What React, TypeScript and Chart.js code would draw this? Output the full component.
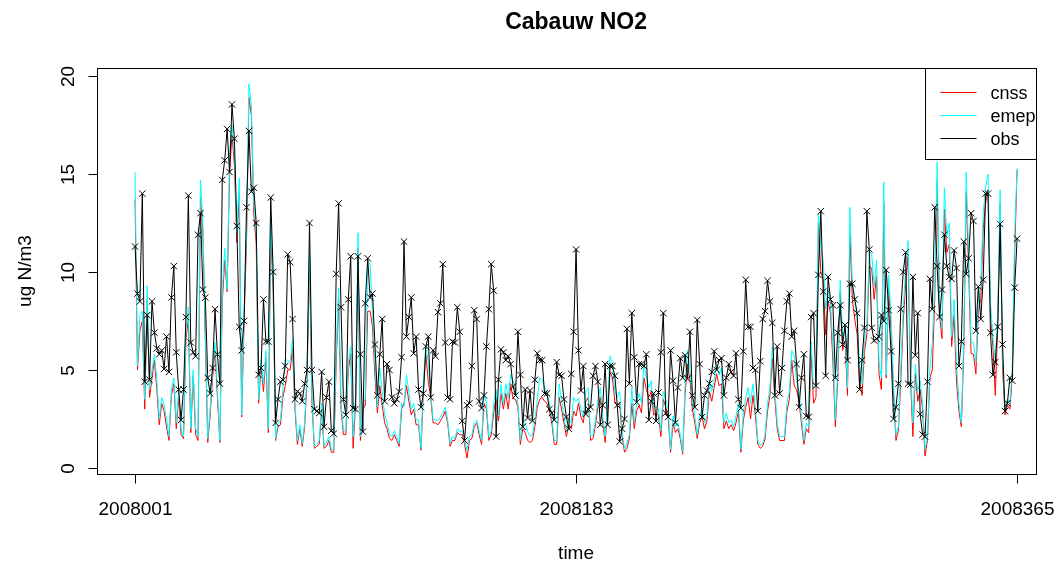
import React, { useEffect, useRef } from "react";
import { Chart, registerables } from "chart.js";

Chart.register(...registerables);

// Observations (day 1 .. 365)
const obs: number[] = [
  11.3, 8.9, 8.5, 14.0, 4.4, 7.8, 4.5, 8.5, 6.9, 6.1, 5.8, 6.0, 5.05, 6.7, 4.9, 8.7, 10.3, 5.9, 4.0, 2.45, 4.0, 7.7, 13.9, 6.4, 5.9, 5.7, 11.9, 13.0, 9.1,
  8.7, 4.6, 3.8, 5.1, 8.1, 5.8, 4.3, 14.7, 15.7, 17.3, 15.1, 18.55, 16.8, 12.35, 7.2, 6.0, 7.5, 13.3, 17.2, 14.1, 14.3, 12.5, 4.75, 5.1, 8.6, 6.45, 6.45, 13.8, 10.0, 2.3,
  3.5,
  4.4, 4.5, 5.2, 10.9, 10.5, 7.6, 3.5, 3.9, 3.8, 3.4, 4.3, 5.0, 12.5, 5.0, 3.0, 2.9, 2.8, 4.9, 2.1, 3.6, 4.4, 1.9, 1.75, 9.9, 13.5, 8.2, 3.5, 2.7, 8.6, 10.8,
  3.05, 3.0, 10.8, 5.8, 1.85, 8.4, 10.7, 8.7, 8.9, 6.3, 3.7, 5.8, 7.6, 3.4, 5.3, 5.0, 3.6, 3.3, 3.5, 3.9, 5.65, 11.55, 6.7, 7.7, 8.7, 5.85, 6.7, 4.0, 3.1, 3.8, 6.2,
  6.7, 3.6, 6.0, 5.7, 7.95, 8.4, 10.4, 6.4, 3.6, 3.5, 6.45, 6.4, 8.2, 6.95, 2.4, 1.4, 3.2, 3.3, 5.2, 8.05, 7.6, 3.4, 3.05, 3.7, 6.2, 8.1, 10.4, 9.05, 1.6, 4.5, 6.05,
  5.9, 5.5, 5.7, 5.3, 4.15, 3.7, 6.95, 4.75, 2.1, 4.0, 2.55, 3.95, 2.4, 4.5, 5.85, 5.5, 5.5, 3.8, 3.8, 3.0, 2.8, 2.45, 5.4, 4.75, 4.7, 3.5, 2.6, 2.0, 4.8, 6.95, 11.15,
  6.0, 3.95, 5.2, 2.75, 3.0, 3.1, 4.7, 5.2, 4.4, 2.2, 3.2, 5.3, 2.2, 5.2, 5.2, 4.7, 3.2, 1.35, 2.0, 2.5, 7.1, 4.3, 7.9, 5.65, 3.35, 5.3, 5.3, 5.2, 5.8, 2.45,
  3.4, 3.8, 2.4, 3.85, 5.9, 7.9, 2.8, 2.6, 6.0, 4.45, 2.3, 4.1, 5.6, 4.6, 5.75, 4.55, 6.95, 3.7, 3.1, 7.55, 5.3, 2.6, 3.7, 3.95, 4.3, 4.9, 5.95, 5.0, 5.5, 5.6, 3.7,
  4.6, 5.3, 4.9, 4.7, 5.85, 3.5, 3.05, 5.95, 9.6, 7.2, 7.2, 5.1, 5.0, 2.9, 5.45, 7.6, 8.0, 9.55, 8.5, 7.4, 3.7, 6.2, 3.8, 5.1, 7.0, 8.5, 8.9, 6.7, 7.0, 5.3, 3.1,
  4.6, 5.8, 2.65, 2.6, 7.7, 7.9, 4.2, 9.85, 13.1, 9.0, 4.7, 9.75, 8.6, 8.3, 4.6, 6.9, 8.3, 6.3, 7.3, 5.5, 9.4, 9.4, 8.6, 7.9, 4.0, 5.5, 7.15, 13.1, 11.15, 7.15, 6.5,
  6.6, 6.7, 7.8, 7.5, 10.1, 8.05, 5.95, 2.5, 3.1, 4.3, 8.1, 10.0, 11.0, 4.3, 4.25, 9.75, 5.75, 7.9, 2.75, 1.7, 1.6, 4.4, 9.65, 8.1, 13.3, 10.3, 7.7, 9.1, 11.9, 10.3,
  9.75, 9.65, 11.1, 10.2, 5.2, 6.45, 11.55, 9.9, 10.7, 13.0, 12.6, 7.0, 9.25, 7.6, 9.6, 14.0, 14.0, 6.9, 4.75, 5.4, 7.2, 12.45, 6.3, 2.9, 3.3, 4.6, 4.45, 9.2, 11.7,
];

// EMEP model
const emep: number[] = [
  15.1, 5.2, 7.8, 8.0, 3.5, 9.3, 4.0, 5.0, 5.8, 4.5, 2.5, 3.6, 3.2, 2.5, 1.6, 4.0, 4.6, 2.3, 4.0, 2.0, 1.6, 7.0, 8.2, 2.0, 5.0, 2.0, 1.6, 14.7, 12.5,
  7.0, 1.5, 3.0, 5.0, 6.4, 4.0, 1.4, 9.0, 11.2, 9.1, 16.0, 17.5, 16.0, 12.0, 14.8, 2.7, 8.0, 12.0, 19.6, 18.5, 13.5, 12.0, 3.5, 5.5, 4.3, 6.0, 2.0, 12.8, 9.5, 1.5,
  2.3,
  2.4, 4.0, 5.5, 5.5, 5.4, 6.6, 3.3, 1.4, 2.2, 1.25, 2.3, 5.0, 11.1, 3.6, 1.1, 1.2, 1.4, 3.3, 1.1, 1.3, 1.6, 0.95, 0.95, 5.8, 9.2, 3.3, 1.9, 1.9, 5.4, 6.2,
  1.6, 3.6, 12.0, 1.6, 3.3, 3.5, 10.6, 10.4, 7.9, 5.3, 3.1, 5.1, 3.9, 2.75, 2.3, 1.7, 1.6, 1.9, 1.6, 1.25, 3.3, 3.1, 4.75, 3.9, 3.0, 3.3, 2.45, 2.45, 1.0, 4.5, 6.2,
  5.4, 3.9, 2.45, 2.45, 2.4, 2.6, 2.8, 3.1, 2.45, 1.25, 1.6, 1.5, 2.0, 1.85, 1.9, 1.4, 0.9, 1.6, 1.7, 2.3, 2.45, 1.9, 1.4, 3.8, 3.3, 1.6, 1.9, 3.3, 4.0, 2.65, 4.25,
  3.3, 4.3, 3.55, 4.75, 4.45, 4.1, 3.3, 1.4, 2.45, 2.3, 1.85, 1.6, 1.7, 2.4, 3.5, 4.6, 4.5, 4.1, 3.9, 3.3, 2.6, 1.4, 1.4, 4.3, 3.5, 2.6, 1.9, 2.45, 2.3, 3.6, 3.4,
  3.55, 3.0, 2.6, 3.9, 4.1, 1.6, 1.7, 2.45, 3.5, 4.1, 2.65, 1.6, 3.3, 5.7, 5.3, 3.9, 3.6, 3.9, 1.9, 0.95, 1.25, 1.7, 4.1, 2.3, 3.3, 3.8, 3.3, 5.3, 4.6, 4.1,
  4.45, 3.1, 3.1, 3.0, 1.9, 3.9, 3.5, 3.0, 0.95, 2.65, 2.1, 2.3, 1.7, 0.8, 4.3, 6.0, 5.0, 3.5, 2.65, 1.7, 2.65, 3.0, 2.3, 2.65, 4.5, 3.9, 4.5, 5.3, 4.75, 5.1, 2.3,
  2.8, 2.3, 2.45, 2.1, 2.65, 3.3, 0.95, 2.8, 3.6, 4.1, 3.3, 4.3, 3.1, 1.4, 1.15, 1.25, 1.7, 3.3, 4.1, 6.2, 4.1, 2.3, 1.6, 1.6, 1.6, 3.3, 3.9, 6.0, 5.7, 4.45, 3.9,
  2.65, 1.4, 2.3, 2.1, 6.45, 4.1, 4.1, 13.0, 11.2, 10.6, 8.1, 9.1, 8.4, 6.2, 2.45, 5.0, 9.6, 6.7, 7.1, 4.1, 13.3, 9.4, 8.55, 7.7, 5.3, 4.3, 6.5, 7.2, 11.05, 10.9, 9.25,
  10.6, 5.4, 4.6, 14.6, 4.75, 9.85, 7.7, 4.3, 1.7, 2.1, 5.0, 8.1, 10.15, 11.6, 5.0, 2.3, 5.3, 3.9, 4.45, 3.3, 0.95, 1.6, 5.0, 6.4, 9.25, 15.6, 8.4, 7.1, 14.3, 11.85,
  12.5, 6.7, 8.6, 5.3, 3.3, 2.3, 6.7, 15.1, 10.9, 6.4, 6.4, 5.4, 8.6, 9.25, 13.0, 14.3, 15.0, 8.5, 6.7, 5.4, 7.9, 14.2, 5.6, 3.0, 3.5, 3.3, 5.0, 11.9, 15.3,
];

// CNSS model
const cnss: number[] = [
  13.7, 5.0, 7.0, 7.5, 3.0, 8.6, 3.6, 4.6, 5.5, 4.0, 2.2, 3.3, 2.9, 2.1, 1.4, 3.7, 4.3, 2.0, 3.6, 1.7, 1.5, 6.5, 7.6, 1.8, 4.7, 1.7, 1.4, 13.8, 12.0,
  6.5, 1.3, 2.7, 4.6, 6.0, 3.6, 1.3, 8.5, 10.6, 9.0, 15.0, 17.0, 15.5, 11.5, 14.0, 2.6, 7.5, 11.5, 18.9, 18.0, 13.0, 11.4, 3.3, 5.2, 3.9, 5.6, 1.8, 12.0, 9.0, 1.4,
  2.1,
  2.2, 3.6, 4.2, 5.0, 5.0, 6.1, 3.0, 1.2, 2.0, 1.1, 2.1, 4.6, 10.6, 3.3, 1.0, 1.1, 1.2, 3.0, 1.0, 1.1, 1.4, 0.8, 0.8, 5.3, 8.7, 3.0, 1.7, 1.7, 5.0, 5.8,
  1.0, 3.3, 11.2, 1.4, 3.0, 3.2, 8.0, 8.0, 7.2, 4.7, 2.8, 4.2, 3.2, 2.3, 2.0, 1.5, 1.4, 1.7, 1.4, 1.1, 3.0, 3.3, 4.2, 3.4, 2.7, 3.0, 2.2, 2.2, 0.9, 4.0, 5.8,
  4.4, 3.6, 2.3, 2.3, 2.2, 2.4, 2.6, 2.9, 2.3, 1.1, 1.4, 1.4, 1.8, 1.7, 1.7, 1.2, 0.5, 1.4, 1.5, 2.1, 2.3, 1.7, 1.2, 3.3, 3.0, 1.4, 1.7, 2.8, 3.6, 2.4, 3.8,
  3.0, 3.8, 3.0, 4.2, 3.55, 3.5, 3.1, 1.2, 2.0, 1.8, 1.4, 1.3, 1.4, 2.1, 3.1, 3.5, 3.6, 3.4, 3.3, 2.9, 2.3, 1.2, 1.2, 3.6, 3.0, 2.3, 1.6, 2.2, 2.0, 2.9, 2.65,
  3.3, 2.6, 2.3, 3.4, 3.6, 1.4, 1.5, 2.2, 3.1, 3.6, 2.3, 1.3, 2.9, 4.9, 4.6, 3.4, 3.2, 3.3, 1.6, 0.8, 1.0, 1.5, 3.3, 2.0, 2.9, 3.2, 2.8, 4.6, 4.0, 3.6,
  3.9, 2.7, 2.8, 2.7, 1.6, 3.5, 3.1, 2.6, 0.8, 2.3, 1.8, 2.0, 1.5, 0.7, 3.8, 5.3, 4.5, 3.0, 2.3, 1.5, 2.3, 2.6, 2.0, 2.4, 3.9, 3.4, 4.1, 4.8, 4.2, 4.3, 2.0,
  2.4, 2.0, 2.2, 1.9, 2.3, 2.9, 0.8, 2.4, 3.1, 3.6, 2.5, 3.7, 2.7, 1.2, 1.0, 1.1, 1.5, 2.9, 3.7, 5.6, 3.6, 2.0, 1.4, 1.4, 1.4, 2.9, 3.5, 5.5, 4.2, 4.0, 3.4,
  2.3, 1.2, 2.0, 1.8, 5.8, 3.3, 3.6, 12.5, 10.0, 9.6, 6.8, 8.5, 7.9, 5.4, 2.1, 4.5, 9.0, 6.0, 6.5, 3.7, 12.0, 8.6, 7.6, 6.8, 4.4, 3.7, 5.9, 6.8, 10.3, 10.2, 8.6,
  9.8, 4.8, 4.0, 13.5, 4.6, 9.2, 7.0, 3.8, 1.4, 1.9, 4.5, 7.5, 9.4, 10.8, 4.6, 1.6, 4.8, 3.4, 4.0, 3.0, 0.6, 1.4, 4.6, 5.0, 8.6, 14.6, 7.8, 6.6, 13.2, 11.0,
  11.4, 6.2, 7.8, 4.4, 2.9, 2.1, 6.0, 14.1, 10.1, 5.85, 5.8, 4.8, 8.0, 8.6, 12.2, 13.5, 14.2, 7.9, 6.2, 3.7, 7.2, 13.5, 5.1, 2.7, 3.2, 3.0, 4.6, 11.0, 15.2,
];

const xTickValues = [1, 183, 365];
const xTickLabels = ["2008001", "2008183", "2008365"];
const yTickValues = [0, 5, 10, 15, 20];
const seriesNames = ["cnss", "emep", "obs"];
const seriesColors = ["#FF0000", "#00FFFF", "#000000"];
const chartTitle = "Cabauw NO2";
const xTitle = "time";
const yTitle = "ug N/m3";

const FONT = '"Liberation Sans", Arial, Helvetica, sans-serif';

const toPoints = (vals: number[]) => vals.map((v, i) => ({ x: i + 1, y: v }));

const rStylePlugin = {
  id: "rStyle",
  afterDraw(chart: any) {
    const { ctx, chartArea: a, scales } = chart;
    const xs = scales.x;
    const ys = scales.y;
    ctx.save();
    ctx.strokeStyle = "#000";
    ctx.fillStyle = "#000";
    ctx.lineWidth = 1;
    const seg = (x1: number, y1: number, x2: number, y2: number) => {
      ctx.beginPath();
      ctx.moveTo(x1, y1);
      ctx.lineTo(x2, y2);
      ctx.stroke();
    };
    const L = Math.round(a.left) + 0.5;
    const R = Math.round(a.right) + 0.5;
    const T = Math.round(a.top) + 0.5;
    const B = Math.round(a.bottom) + 0.5;
    // legend (top right)
    const lgW = 111, lgH = 91;
    ctx.fillStyle = "#fff";
    ctx.fillRect(R - lgW, T, lgW, lgH);
    ctx.strokeRect(R - lgW, T, lgW, lgH);
    ctx.font = `18px ${FONT}`;
    ctx.textAlign = "left";
    ctx.textBaseline = "alphabetic";
    seriesNames.forEach((name, i) => {
      const ly = Math.round(T + 23 + i * 23) + 0.5;
      ctx.strokeStyle = seriesColors[i];
      seg(R - 96, ly, R - 60, ly);
      ctx.fillStyle = "#000";
      ctx.fillText(name, R - 46, ly + 6);
    });
    ctx.strokeStyle = "#000";
    ctx.fillStyle = "#000";
    // box
    ctx.strokeRect(L, T, R - L, B - T);
    // x axis
    ctx.font = `19px ${FONT}`;
    ctx.textAlign = "center";
    xTickValues.forEach((v, i) => {
      const px = Math.round(xs.getPixelForValue(v)) + 0.5;
      seg(px, B, px, B + 9);
      ctx.fillText(xTickLabels[i], px, B + 40);
    });
    // y axis
    yTickValues.forEach((v) => {
      const py = Math.round(ys.getPixelForValue(v)) + 0.5;
      seg(L - 9, py, L, py);
      ctx.save();
      ctx.translate(L - 24, py);
      ctx.rotate(-Math.PI / 2);
      ctx.fillText(String(v), 0, 0);
      ctx.restore();
    });
    const cx = xs.getPixelForValue(183);
    // title
    ctx.font = `bold 23px ${FONT}`;
    ctx.fillText(chartTitle, cx, 29);
    // x title
    ctx.font = `19px ${FONT}`;
    ctx.fillText(xTitle, cx, 559);
    // y title
    ctx.save();
    ctx.translate(31, (a.top + a.bottom) / 2);
    ctx.rotate(-Math.PI / 2);
    ctx.fillText(yTitle, 0, 0);
    ctx.restore();
    ctx.restore();
  },
};

export default function App() {
  const ref = useRef<HTMLCanvasElement>(null);
  useEffect(() => {
    if (!ref.current) return;
    const chart = new Chart(ref.current, {
      type: "line",
      data: {
        datasets: [
          {
            label: seriesNames[2],
            data: toPoints(obs),
            borderColor: seriesColors[2],
            borderWidth: 1,
            pointStyle: "crossRot",
            pointRadius: 4.5,
            pointBorderColor: "#000",
            pointBorderWidth: 1,
            tension: 0,
            order: 0,
          },
          {
            label: seriesNames[1],
            data: toPoints(emep),
            borderColor: seriesColors[1],
            borderWidth: 1,
            pointRadius: 0,
            tension: 0,
            order: 1,
          },
          {
            label: seriesNames[0],
            data: toPoints(cnss),
            borderColor: seriesColors[0],
            borderWidth: 1,
            pointRadius: 0,
            tension: 0,
            order: 2,
          },
        ],
      },
      options: {
        responsive: false,
        animation: false,
        devicePixelRatio: 1,
        layout: { padding: { left: 97, top: 68, right: 20, bottom: 91 } },
        plugins: { legend: { display: false }, tooltip: { enabled: false }, title: { display: false } },
        scales: {
          x: { type: "linear", display: false, min: -14.7, max: 372.8 },
          y: { type: "linear", display: false, min: -0.31, max: 20.41 },
        },
      },
      plugins: [rStylePlugin],
    });
    return () => chart.destroy();
  }, []);
  return (
    <div style={{ position: "absolute", left: 0, top: 0, width: 1056, height: 565, background: "#fff" }}>
      <canvas ref={ref} width={1056} height={565} style={{ display: "block" }} />
    </div>
  );
}
